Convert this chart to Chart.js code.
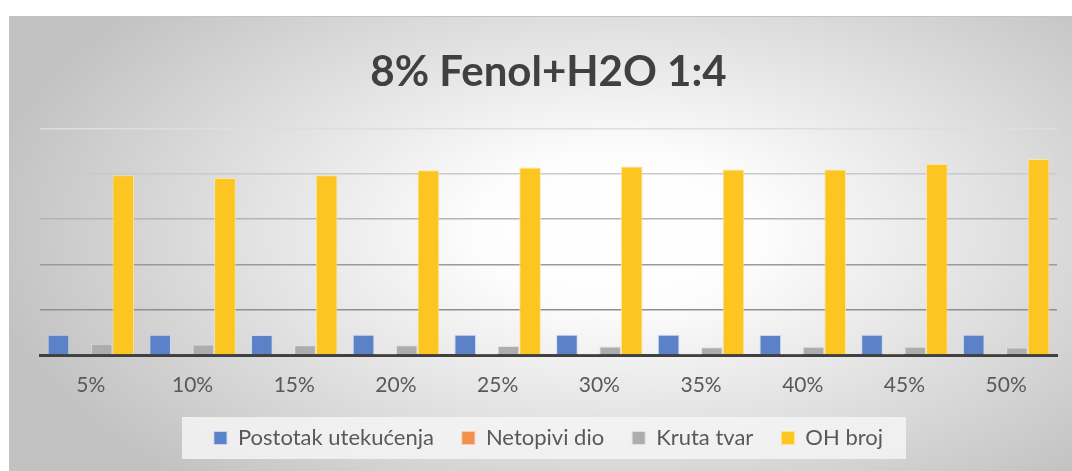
<!DOCTYPE html>
<html>
<head>
<meta charset="utf-8">
<script src="https://cdn.jsdelivr.net/npm/chart.js@4.4.1/dist/chart.umd.min.js"></script>
<style>
  html, body { margin: 0; padding: 0; background: #fff; }
  #wrap { width: 1072px; height: 471px; }
</style>
</head>
<body>
<div id="wrap"><canvas id="c" width="1072" height="471"></canvas></div>
<script>
// chart values
const categories = ['5%', '10%', '15%', '20%', '25%', '30%', '35%', '40%', '45%', '50%'];
const postotakUtekucenja = [8.9, 8.9, 8.8, 8.9, 8.9, 8.9, 8.9, 8.8, 8.9, 8.9];
const netopiviDio = [0.4, 0.4, 0.4, 0.1, 0.1, 0.1, 0.1, 0.1, 0.1, 0.1];
const krutaTvar = [5.0, 4.6, 4.3, 4.3, 4.0, 3.7, 3.4, 3.6, 3.6, 3.3];
const ohBroj = [79.3, 78.1, 79.3, 81.5, 82.7, 83.2, 81.9, 81.9, 84.3, 86.5];
const yTicks = [0, 20, 40, 60, 80, 100];

const gridColors = { 0: 'rgba(0,0,0,0)', 20: '#8f8f8f', 40: '#9a9a9a', 60: '#b4b4b4', 80: '#cacaca', 100: '#dedede' };

// background + legend panel
const backdrop = {
    id: 'backdrop',
    beforeDraw(chart) {
        const ctx = chart.ctx;
        ctx.save();
        ctx.fillStyle = '#ffffff';
        ctx.fillRect(0, 0, chart.width, chart.height);

        const x0 = 9, y0 = 16, x1 = chart.width, y1 = chart.height;
        const cx = 620, cy = 230, rx = 640, ry = 340;
        ctx.save();
        ctx.beginPath();
        ctx.rect(x0, y0, x1 - x0, y1 - y0);
        ctx.clip();
        ctx.translate(cx, cy);
        ctx.scale(1, ry / rx);
        const g = ctx.createRadialGradient(0, 0, 0, 0, 0, rx);
        g.addColorStop(0, '#ffffff');
        g.addColorStop(0.22, '#fdfdfd');
        g.addColorStop(1, '#c2c2c2');
        ctx.fillStyle = g;
        ctx.fillRect(-cx - 10, -cy * rx / ry - 10, x1 + 20, (y1 + 20) * rx / ry);
        ctx.restore();

        ctx.strokeStyle = '#c4c4c4';
        ctx.lineWidth = 1;
        ctx.beginPath();
        ctx.moveTo(x0, y0 + 0.5);
        ctx.lineTo(x1, y0 + 0.5);
        ctx.stroke();

        const hb = chart.legend.legendHitBoxes;
        if (hb && hb.length) {
            const last = hb[hb.length - 1];
            const lx = hb[0].left - 32;
            const rxx = last.left + last.width + 23;
            const mid = hb[0].top + hb[0].height / 2;
            ctx.fillStyle = 'rgba(244,244,244,0.85)';
            ctx.fillRect(lx, mid - 21, rxx - lx, 42);
        }
        ctx.restore();
    }
};

const ctx = document.getElementById('c').getContext('2d');
new Chart(ctx, {
    type: 'bar',
    data: {
        labels: categories,
        datasets: [{
            label: 'Postotak utekućenja', data: postotakUtekucenja,
            backgroundColor: '#5b82c8', borderColor: 'rgba(200,215,240,0.9)', borderWidth: 1
        }, {
            label: 'Netopivi dio', data: netopiviDio,
            backgroundColor: '#f0904a', borderColor: 'rgba(250,205,175,0.9)', borderWidth: 1
        }, {
            label: 'Kruta tvar', data: krutaTvar,
            backgroundColor: '#adadad', borderColor: 'rgba(225,225,225,0.9)', borderWidth: 1
        }, {
            label: 'OH broj', data: ohBroj,
            backgroundColor: '#fcc521', borderColor: 'rgba(253,230,150,0.9)', borderWidth: 1
        }]
    },
    options: {
        responsive: false,
        animation: false,
        layout: { padding: { top: 0, left: 40, right: 15, bottom: 12 } },
        datasets: { bar: { categoryPercentage: 0.85, barPercentage: 1 } },
        scales: {
            x: {
                grid: { display: false, drawTicks: false },
                border: { display: true, color: '#404040', width: 3 },
                ticks: { color: '#595959', font: { family: 'Lato', size: 21 }, padding: 18, maxRotation: 0 },
                afterFit: (scale) => { scale.height = 44; }
            },
            y: {
                min: 0, max: 100,
                afterBuildTicks: (scale) => { scale.ticks = yTicks.map(v => ({ value: v })); },
                ticks: { display: false },
                border: { display: false },
                grid: {
                    drawTicks: false,
                    lineWidth: 1.5,
                    color: (c) => gridColors[c.tick ? c.tick.value : 0] || '#cccccc'
                }
            }
        },
        plugins: {
            title: {
                display: true,
                text: '8% Fenol+H2O 1:4',
                color: '#404040',
                font: { family: 'Lato', size: 42, weight: 'bold' },
                padding: { top: 47, bottom: 31 }
            },
            legend: {
                position: 'bottom',
                labels: {
                    color: '#595959',
                    font: { family: 'Lato', size: 22 },
                    boxWidth: 13,
                    boxHeight: 13,
                    padding: 28
                }
            },
            tooltip: { enabled: false }
        }
    },
    plugins: [backdrop]
});
</script>
</body>
</html>
